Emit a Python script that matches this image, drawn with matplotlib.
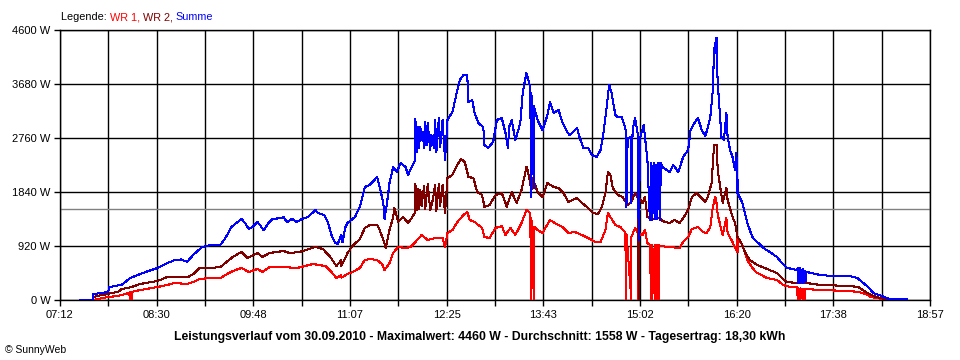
import matplotlib
matplotlib.use("Agg")
import matplotlib.pyplot as plt
import numpy as np

# readings from the SunnyWeb chart (time, watt)
wr1 = [("07:39", 0), ("07:47", 34), ("07:51", 51), ("07:59", 68), ("08:08", 120),
       ("08:09", 0), ("08:09", 136), ("08:10", 0), ("08:10", 136), ("08:17", 170),
       ("08:31", 221), ("08:39", 256), ("08:45", 290), ("08:55", 273), ("09:00", 307),
       ("09:05", 358), ("09:14", 375), ("09:22", 375), ("09:26", 426), ("09:32", 494),
       ("09:39", 545), ("09:45", 477), ("09:52", 528), ("09:56", 477), ("10:02", 562),
       ("10:13", 562), ("10:24", 545), ("10:37", 613), ("10:47", 579), ("10:52", 477),
       ("10:56", 375), ("11:00", 426), ("11:00", 380), ("11:05", 443), ("11:09", 477),
       ("11:15", 545), ("11:19", 681), ("11:23", 699), ("11:29", 681), ("11:33", 613),
       ("11:35", 511), ("11:39", 630), ("11:42", 801), ("11:46", 903), ("11:52", 886),
       ("11:56", 903), ("12:00", 988), ("12:05", 1107), ("12:10", 1022), ("12:16", 1056),
       ("12:22", 1056), ("12:24", 903), ("12:26", 1141), ("12:30", 1193), ("12:34", 1329),
       ("12:39", 1448), ("12:42", 1499), ("12:44", 1363), ("12:48", 1329), ("12:54", 1227),
       ("12:56", 1073), ("13:00", 1056), ("13:05", 1227), ("13:10", 1261), ("13:13", 1107),
       ("13:17", 1227), ("13:21", 1107), ("13:26", 1312), ("13:30", 1533), ("13:33", 1482),
       ("13:34", 0), ("13:34", 1400), ("13:36", 0), ("13:36", 1250), ("13:39", 1193),
       ("13:43", 1141), ("13:49", 1363), ("13:53", 1312), ("13:59", 1244), ("14:04", 1141),
       ("14:09", 1159), ("14:15", 1107), ("14:20", 1056), ("14:26", 988), ("14:30", 988),
       ("14:34", 1193), ("14:36", 1482), ("14:38", 1414), ("14:42", 1278), ("14:46", 1244),
       ("14:50", 1159), ("14:51", 0), ("14:51", 1130), ("14:55", 0), ("14:55", 1073),
       ("14:58", 1227), ("15:00", 1150), ("15:00", 0), ("15:01", 1130), ("15:04", 1107),
       ("15:06", 1193), ("15:08", 971), ("15:10", 937), ("15:11", 0), ("15:11", 937),
       ("15:12", 0), ("15:12", 937), ("15:14", 0), ("15:14", 937), ("15:15", 0),
       ("15:15", 937), ("15:16", 0), ("15:16", 937), ("15:17", 0), ("15:17", 937),
       ("15:18", 920), ("15:26", 903), ("15:34", 886), ("15:37", 988), ("15:41", 1073),
       ("15:44", 1210), ("15:49", 1244), ("15:53", 1159), ("15:56", 1141), ("15:59", 1244),
       ("16:01", 1584), ("16:03", 1755), ("16:04", 1653), ("16:05", 1448), ("16:08", 1193),
       ("16:09", 1107), ("16:12", 1397), ("16:13", 1141), ("16:17", 988), ("16:19", 886),
       ("16:21", 818), ("16:21", 1073), ("16:25", 937), ("16:29", 681), ("16:33", 545),
       ("16:37", 460), ("16:45", 375), ("16:53", 341), ("16:58", 256), ("17:04", 221),
       ("17:09", 221), ("17:10", 0), ("17:10", 210), ("17:12", 0), ("17:12", 200),
       ("17:14", 0), ("17:14", 195), ("17:16", 0), ("17:16", 190), ("17:17", 187),
       ("17:28", 170), ("17:52", 153), ("17:59", 136), ("18:05", 102), ("18:09", 51),
       ("18:13", 34), ("18:19", 17), ("18:20", 0)]

wr2 = [("07:39", 0), ("07:39", 51), ("07:42", 68), ("07:51", 102), ("07:53", 119),
       ("07:59", 136), ("08:02", 187), ("08:10", 221), ("08:17", 273), ("08:31", 324),
       ("08:39", 392), ("08:45", 392), ("08:56", 392), ("09:00", 443), ("09:05", 545),
       ("09:14", 545), ("09:22", 562), ("09:26", 630), ("09:32", 733), ("09:39", 818),
       ("09:44", 716), ("09:52", 801), ("09:56", 733), ("10:02", 801), ("10:13", 835),
       ("10:18", 801), ("10:26", 818), ("10:39", 903), ("10:45", 869), ("10:51", 733),
       ("10:56", 579), ("11:00", 681), ("11:00", 579), ("11:05", 801), ("11:09", 920),
       ("11:15", 1039), ("11:19", 1227), ("11:23", 1278), ("11:29", 1278), ("11:31", 1193),
       ("11:34", 1022), ("11:36", 886), ("11:39", 1193), ("11:42", 1414), ("11:43", 1567),
       ("11:46", 1329), ("11:50", 1414), ("11:54", 1312), ("11:57", 1397), ("12:00", 1499),
       ("12:00", 1976), ("12:01", 1533), ("12:02", 1900), ("12:03", 1550), ("12:04", 1874),
       ("12:05", 1600), ("12:07", 1940), ("12:08", 1550), ("12:10", 1976), ("12:12", 1533),
       ("12:14", 1700), ("12:16", 1959), ("12:17", 1520), ("12:19", 1976), ("12:20", 1600),
       ("12:22", 1959), ("12:24", 1482), ("12:26", 2079), ("12:30", 2130), ("12:34", 2300),
       ("12:37", 2402), ("12:40", 2351), ("12:43", 2096), ("12:47", 2079), ("12:50", 1840),
       ("12:54", 1789), ("12:56", 1584), ("13:00", 1619), ("13:05", 1789), ("13:10", 1823),
       ("13:13", 1653), ("13:14", 1584), ("13:18", 1840), ("13:22", 1653), ("13:26", 1874),
       ("13:30", 2266), ("13:31", 2215), ("13:34", 1874), ("13:35", 2079), ("13:39", 1840),
       ("13:43", 1755), ("13:47", 1993), ("13:52", 1925), ("13:56", 1908), ("14:00", 1823),
       ("14:04", 1670), ("14:11", 1738), ("14:15", 1653), ("14:19", 1584), ("14:24", 1482),
       ("14:28", 1465), ("14:31", 1584), ("14:34", 1823), ("14:36", 2181), ("14:38", 2130),
       ("14:40", 1908), ("14:44", 1789), ("14:48", 1755), ("14:52", 1619), ("14:55", 1670),
       ("14:58", 1823), ("15:00", 1755), ("15:01", 0), ("15:01", 1755), ("15:04", 1653),
       ("15:06", 1755), ("15:08", 1414), ("15:12", 1380), ("15:18", 1397), ("15:20", 1346),
       ("15:26", 1312), ("15:30", 1363), ("15:34", 1312), ("15:37", 1397), ("15:41", 1533),
       ("15:44", 1755), ("15:48", 1823), ("15:51", 1755), ("15:55", 1670), ("15:57", 1755),
       ("16:00", 1993), ("16:02", 2641), ("16:04", 2641), ("16:05", 2215), ("16:07", 1925),
       ("16:09", 1653), ("16:12", 1908), ("16:13", 1704), ("16:17", 1414), ("16:19", 1312),
       ("16:20", 1193), ("16:21", 1073), ("16:23", 1022), ("16:27", 818), ("16:31", 681),
       ("16:37", 596), ("16:43", 545), ("16:53", 460), ("16:57", 375), ("17:01", 307),
       ("17:09", 290), ("17:17", 290), ("17:28", 256), ("17:52", 239), ("17:59", 221),
       ("18:05", 136), ("18:11", 68), ("18:17", 34), ("18:21", 17)]

summe = [("07:28", 0), ("07:39", 0), ("07:39", 100), ("07:45", 120), ("07:51", 136),
         ("07:52", 220), ("08:02", 260), ("08:09", 375), ("08:19", 460), ("08:31", 545),
         ("08:39", 630), ("08:45", 680), ("08:50", 690), ("08:55", 650), ("09:00", 770),
         ("09:07", 900), ("09:14", 937), ("09:22", 940), ("09:26", 1055), ("09:31", 1245),
         ("09:39", 1380), ("09:42", 1312), ("09:45", 1210), ("09:48", 1244), ("09:52", 1330),
         ("09:54", 1278), ("09:57", 1190), ("10:01", 1312), ("10:04", 1380), ("10:12", 1397),
         ("10:13", 1414), ("10:16", 1329), ("10:20", 1380), ("10:24", 1329), ("10:28", 1380),
         ("10:33", 1414), ("10:39", 1533), ("10:41", 1482), ("10:46", 1448), ("10:49", 1329),
         ("10:52", 1107), ("10:55", 971), ("10:57", 954), ("11:00", 1107), ("11:01", 980),
         ("11:03", 1227), ("11:05", 1312), ("11:11", 1414), ("11:15", 1584), ("11:19", 1925),
         ("11:23", 1959), ("11:29", 2096), ("11:31", 1925), ("11:34", 1653), ("11:35", 1380),
         ("11:37", 1653), ("11:39", 1993), ("11:42", 2266), ("11:45", 2181), ("11:48", 2334),
         ("11:52", 2266), ("11:54", 2130), ("11:57", 2266), ("12:00", 2385), ("12:00", 3084),
         ("12:01", 2521), ("12:02", 2947), ("12:03", 2590), ("12:04", 2947), ("12:05", 2726),
         ("12:06", 2862), ("12:07", 2590), ("12:08", 3033), ("12:09", 2641), ("12:10", 3016),
         ("12:12", 2556), ("12:13", 2811), ("12:15", 2590), ("12:16", 3067), ("12:17", 2520),
         ("12:19", 3101), ("12:20", 2600), ("12:22", 3067), ("12:24", 2385), ("12:26", 3067),
         ("12:30", 3203), ("12:34", 3578), ("12:36", 3748), ("12:39", 3833), ("12:42", 3833),
         ("12:43", 3373), ("12:46", 3407), ("12:48", 3186), ("12:51", 3016), ("12:55", 2947),
         ("12:56", 2641), ("12:59", 2590), ("13:03", 2692), ("13:06", 3067), ("13:10", 3101),
         ("13:13", 2845), ("13:15", 2590), ("13:16", 2950), ("13:18", 3067), ("13:21", 2726),
         ("13:25", 3016), ("13:27", 3544), ("13:30", 3867), ("13:33", 3629), ("13:34", 1755),
         ("13:34", 3527), ("13:36", 1900), ("13:36", 3300), ("13:39", 3067), ("13:43", 2896),
         ("13:47", 3152), ("13:49", 3373), ("13:52", 3186), ("13:56", 3237), ("13:59", 3033),
         ("14:03", 2862), ("14:05", 2811), ("14:11", 2930), ("14:13", 2777), ("14:16", 2590),
         ("14:20", 2590), ("14:23", 2470), ("14:27", 2436), ("14:30", 2556), ("14:32", 2777),
         ("14:35", 3288), ("14:37", 3663), ("14:39", 3527), ("14:42", 3152), ("14:44", 3118),
         ("14:47", 3118), ("14:50", 2947), ("14:51", 2760), ("14:51", 1584), ("14:52", 2760),
         ("14:55", 2777), ("14:55", 1650), ("14:56", 2900), ("14:58", 3101), ("15:00", 2845),
         ("15:01", 1022), ("15:02", 2760), ("15:05", 2981), ("15:08", 2385), ("15:10", 1363),
         ("15:11", 2334), ("15:12", 1363), ("15:13", 2334), ("15:14", 1380), ("15:15", 2300),
         ("15:16", 1380), ("15:17", 2334), ("15:18", 1363), ("15:19", 2334), ("15:20", 2266),
         ("15:26", 2181), ("15:29", 2300), ("15:33", 2181), ("15:37", 2436), ("15:41", 2556),
         ("15:43", 2896), ("15:45", 2981), ("15:49", 3101), ("15:52", 2896), ("15:55", 2794),
         ("15:57", 2947), ("15:59", 3118), ("16:01", 3578), ("16:02", 4259), ("16:04", 4464),
         ("16:04", 4208), ("16:05", 3697), ("16:07", 3067), ("16:08", 2777), ("16:10", 2726),
         ("16:12", 3186), ("16:13", 2777), ("16:15", 2556), ("16:17", 2436), ("16:19", 2215),
         ("16:20", 2504), ("16:21", 2044), ("16:21", 1823), ("16:25", 1653), ("16:29", 1312),
         ("16:33", 1073), ("16:37", 988), ("16:42", 886), ("16:47", 818), ("16:53", 733),
         ("16:57", 630), ("17:01", 545), ("17:06", 528), ("17:09", 511), ("17:10", 545),
         ("17:10", 290), ("17:11", 511), ("17:12", 545), ("17:12", 290), ("17:13", 500),
         ("17:14", 530), ("17:14", 290), ("17:15", 490), ("17:16", 500), ("17:16", 300),
         ("17:17", 477), ("17:28", 426), ("17:38", 409), ("17:52", 409), ("17:58", 375),
         ("18:03", 290), ("18:07", 221), ("18:11", 119), ("18:16", 85), ("18:20", 51),
         ("18:24", 17), ("18:38", 17)]

durchschnitt = 1558
y_ticks = [0, 920, 1840, 2760, 3680, 4600]
y_labels = ["0 W", "920 W", "1840 W", "2760 W", "3680 W", "4600 W"]
x_labels = ["07:12", "", "08:30", "", "09:48", "", "11:07", "", "12:25", "",
            "13:43", "", "15:02", "", "16:20", "", "17:38", "", "18:57"]


def to_min(s):
    h, m = s.split(":")
    return int(h) * 60 + int(m)


def series(pts):
    t = np.array([to_min(p[0]) for p in pts], dtype=float)
    w = np.array([p[1] for p in pts], dtype=float)
    return t, w


plt.rcParams["font.family"] = ["Liberation Sans", "DejaVu Sans"]

fig = plt.figure(figsize=(9.6, 3.6), dpi=100)
ax = fig.add_axes([60 / 960, 60 / 360, 870 / 960, 270 / 360])

t0, t1 = to_min(x_labels[0]), to_min(x_labels[-1])
xt = np.linspace(t0, t1, len(x_labels))
ax.set_xlim(t0, t1)
ax.set_ylim(0, y_ticks[-1])

for x in xt:
    ax.axvline(x, color="black", lw=1, zorder=1)
for y in y_ticks:
    ax.axhline(y, color="black", lw=1, zorder=1)
ax.axhline(durchschnitt, color="#808080", lw=1, zorder=1)

for pts, col in [(wr1, "#ff0000"), (wr2, "#800000"), (summe, "#0000ff")]:
    t, w = series(pts)
    ax.plot(t, w, color=col, lw=0.75, antialiased=False, zorder=3)

ax.set_xticks(xt)
ax.set_xticklabels(x_labels, fontsize=8)
ax.set_yticks(y_ticks)
ax.set_yticklabels(y_labels, fontsize=8)
ax.tick_params(direction="out", length=4, width=1, color="black", pad=3)
for s in ax.spines.values():
    s.set_color("black")
    s.set_linewidth(1)

# legend line built from coloured pieces
r = fig.canvas.get_renderer()
x = 61
for txt, col in [("Legende: ", "black"), ("WR 1, ", "#ff0000"),
                 ("WR 2, ", "#800000"), ("Summe", "#0000ff")]:
    tt = fig.text(x / 960, 1 - 17 / 360, txt, color=col, fontsize=7.8, va="center")
    x += tt.get_window_extent(r).width

fig.text(480 / 960, 1 - 337 / 360,
         "Leistungsverlauf vom 30.09.2010 - Maximalwert: 4460 W - Durchschnitt: 1558 W - Tagesertrag: 18,30 kWh",
         ha="center", va="center", fontsize=8.8, fontweight="bold")
fig.text(5 / 960, 1 - 350 / 360, "© SunnyWeb", fontsize=7.5, va="center")

fig.savefig("out.png", dpi=100)
